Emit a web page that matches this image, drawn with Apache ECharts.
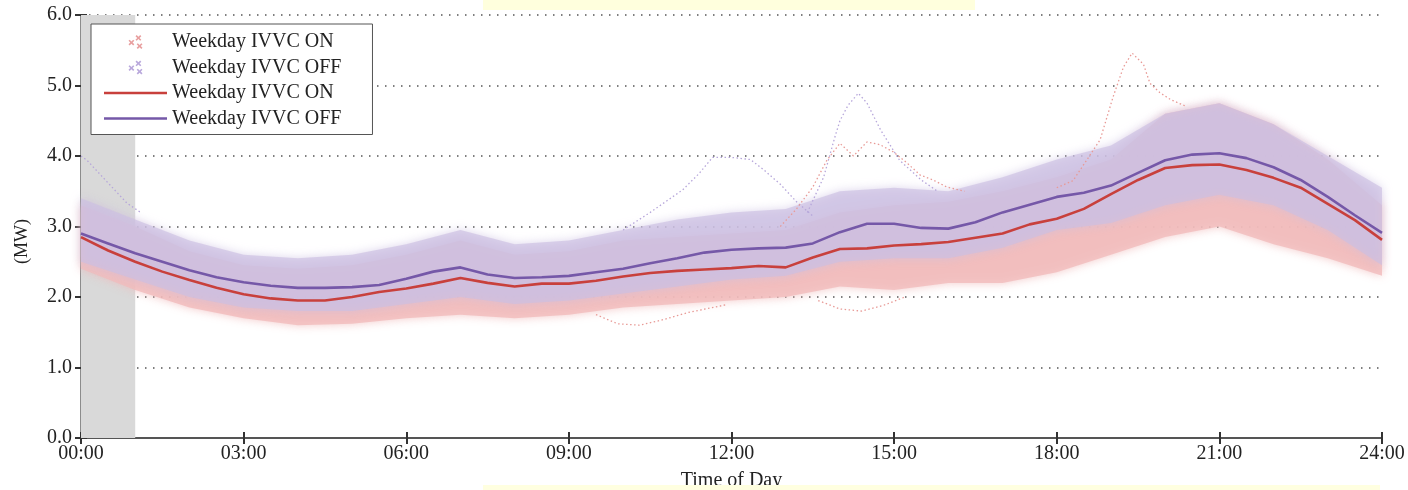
<!DOCTYPE html>
<html>
<head>
<meta charset="utf-8">
<script src="https://cdn.jsdelivr.net/npm/echarts@6/dist/echarts.min.js"></script>
<style>
  html, body { margin: 0; padding: 0; background: #fff; }
  #chart { width: 1408px; height: 490px; }
</style>
</head>
<body>
<div id="chart"></div>
<script>
// x positions (hours of the day)
const halfHours = [0, 0.5, 1, 1.5, 2, 2.5, 3, 3.5, 4, 4.5, 5, 5.5, 6, 6.5, 7, 7.5, 8, 8.5,
  9, 9.5, 10, 10.5, 11, 11.5, 12, 12.5, 13, 13.5, 14, 14.5, 15, 15.5, 16, 16.5,
  17, 17.5, 18, 18.5, 19, 19.5, 20, 20.5, 21, 21.5, 22, 22.5, 23, 23.5, 24];
const hours = [0, 1, 2, 3, 4, 5, 6, 7, 8, 9, 10, 11, 12, 13, 14, 15, 16, 17, 18, 19, 20, 21, 22, 23, 24];
const tickLabels = ['00:00', '03:00', '06:00', '09:00', '12:00', '15:00', '18:00', '21:00', '24:00'];

// average load curves (MW)
const onMean = [2.85, 2.66, 2.50, 2.36, 2.24, 2.13, 2.04, 1.98, 1.95, 1.95, 2.00, 2.07, 2.12, 2.19,
  2.27, 2.20, 2.15, 2.19, 2.19, 2.23, 2.29, 2.34, 2.37, 2.39, 2.41, 2.44, 2.42, 2.56, 2.68, 2.69,
  2.73, 2.75, 2.78, 2.84, 2.90, 3.03, 3.11, 3.25, 3.46, 3.66, 3.83, 3.87, 3.88, 3.80, 3.69, 3.55,
  3.32, 3.09, 2.81];
const offMean = [2.90, 2.76, 2.62, 2.50, 2.38, 2.28, 2.21, 2.16, 2.13, 2.13, 2.14, 2.17, 2.26, 2.36,
  2.42, 2.32, 2.27, 2.28, 2.30, 2.35, 2.40, 2.48, 2.55, 2.63, 2.67, 2.69, 2.70, 2.76, 2.92, 3.04,
  3.04, 2.98, 2.97, 3.06, 3.20, 3.31, 3.42, 3.48, 3.58, 3.76, 3.94, 4.02, 4.04, 3.97, 3.84, 3.66,
  3.42, 3.16, 2.91];

// spread of the individual days (hourly low / high of the scatter cloud)
const onLow = [2.40, 2.10, 1.85, 1.70, 1.60, 1.62, 1.70, 1.75, 1.70, 1.75, 1.85, 1.90, 1.95,
  2.00, 2.15, 2.10, 2.20, 2.20, 2.35, 2.60, 2.85, 3.00, 2.75, 2.55, 2.30];
const onHigh = [3.30, 3.00, 2.65, 2.45, 2.40, 2.45, 2.60, 2.80, 2.60, 2.65, 2.80, 2.85, 2.90,
  2.95, 3.20, 3.30, 3.35, 3.50, 3.70, 3.95, 4.60, 4.75, 4.45, 3.95, 3.30];
const offLow = [2.50, 2.25, 2.00, 1.85, 1.80, 1.80, 1.90, 2.00, 1.90, 1.95, 2.05, 2.15, 2.25,
  2.30, 2.50, 2.55, 2.55, 2.70, 2.95, 3.05, 3.30, 3.45, 3.30, 2.95, 2.45];
const offHigh = [3.40, 3.10, 2.80, 2.60, 2.55, 2.60, 2.75, 2.95, 2.75, 2.80, 2.95, 3.10, 3.20,
  3.25, 3.50, 3.55, 3.50, 3.70, 3.95, 4.15, 4.60, 4.75, 4.45, 4.00, 3.55];

// single days that stray from the cloud: [hour, MW]
const offNightDay = [[0, 4.0], [0.11, 3.94], [0.4, 3.7], [0.85, 3.33], [1.1, 3.2]];
const offNoonDay = [[10.0, 2.95], [10.5, 3.2], [11.1, 3.52], [11.4, 3.75], [11.65, 3.98], [12.0, 3.98],
  [12.35, 3.95], [12.6, 3.8], [12.9, 3.6], [13.2, 3.35], [13.5, 3.15]];
const offAfternoonDay = [[13.4, 3.2], [13.7, 3.7], [13.9, 4.25], [14.0, 4.5], [14.15, 4.72], [14.34, 4.89],
  [14.5, 4.75], [14.75, 4.37], [15.1, 3.94], [15.5, 3.66], [15.8, 3.5]];
const onAfternoonDay = [[12.9, 3.0], [13.2, 3.25], [13.5, 3.56], [13.76, 3.94], [14.0, 4.18], [14.25, 4.0],
  [14.5, 4.2], [14.74, 4.16], [14.98, 4.06], [15.24, 3.9], [15.48, 3.73], [15.72, 3.66], [15.97, 3.56], [16.3, 3.5]];
const onEveningDay = [[18.0, 3.55], [18.3, 3.65], [18.56, 3.95], [18.8, 4.23], [19.04, 4.84], [19.23, 5.26],
  [19.39, 5.46], [19.6, 5.3], [19.72, 5.03], [19.9, 4.9], [20.1, 4.8], [20.4, 4.7]];
const onMorningLowDay = [[9.5, 1.75], [9.9, 1.62], [10.3, 1.6], [10.7, 1.67], [11.2, 1.78], [11.9, 1.89]];
const onAfternoonLowDay = [[13.6, 1.95], [14.0, 1.83], [14.4, 1.8], [14.8, 1.88], [15.2, 2.0]];

const zip = (xs, ys) => xs.map((x, i) => [x, ys[i]]);

const serif = 'Liberation Serif';
const pinkCloud = '#f1bcbc';
const lilacCloud = '#cbbfe2';
const redLine = '#c8403c';
const purpleLine = '#7558a8';

const dotIcon = 'path://M0,5 L1,4 L2.5,5.5 L4,4 L5,5 L3.5,6.5 L5,8 L4,9 L2.5,7.5 L1,9 L0,8 L1.5,6.5 Z' +
  'M6,1 L7,0 L8.5,1.5 L10,0 L11,1 L9.5,2.5 L11,4 L10,5 L8.5,3.5 L7,5 L6,4 L7.5,2.5 Z' +
  'M7,8 L8,7 L9.5,8.5 L11,7 L12,8 L10.5,9.5 L12,11 L11,12 L9.5,10.5 L8,12 L7,11 L8.5,9.5 Z';
const lineIcon = 'path://M0,0 L63,0 L63,2.6 L0,2.6 Z';

// the scatter cloud of one case, drawn as the band between its hourly low and high
function cloud(name, lo, hi, color, opacity) {
  return {
    name: name, type: 'custom', silent: true, z: 3,
    data: hours.map((h, i) => [h, lo[i], hi[i]]),
    encode: { x: 0, y: [1, 2] },
    itemStyle: { color: color },
    renderItem: (params, api) => {
      if (params.dataIndex !== 0) return null;
      const top = hours.map((h, i) => api.coord([h, hi[i]]));
      const bottom = hours.map((h, i) => api.coord([h, lo[i]])).reverse();
      return {
        type: 'polygon',
        shape: { points: top.concat(bottom) },
        style: { fill: color, opacity: opacity, shadowBlur: 10, shadowColor: color }
      };
    }
  };
}

function straggler(data, color) {
  return {
    type: 'line', data: data, symbol: 'none', silent: true, z: 4,
    lineStyle: { color: color, width: 1.3, type: [1.5, 2.5] }
  };
}

const chart = echarts.init(document.getElementById('chart'), null, { renderer: 'canvas' });

const option = {
  animation: false,
  backgroundColor: '#fff',
  grid: { left: 81, right: 26, top: 15, bottom: 52, containLabel: false, outerBoundsMode: 'none' },
  legend: {
    left: 91, top: 24, orient: 'vertical',
    backgroundColor: '#fff', borderColor: '#555', borderWidth: 1,
    padding: [8, 26, 6, 13],
    itemWidth: 63, itemHeight: 14, itemGap: 5.5,
    textStyle: { fontFamily: serif, fontSize: 20, lineHeight: 20, color: '#222' },
    data: [
      { name: 'Weekday IVVC ON', icon: dotIcon, itemStyle: { color: '#e8a0a0' } },
      { name: 'Weekday IVVC OFF', icon: dotIcon, itemStyle: { color: '#b9a8dc' } },
      { name: 'Weekday IVVC ON ', icon: lineIcon, itemStyle: { color: redLine } },
      { name: 'Weekday IVVC OFF ', icon: lineIcon, itemStyle: { color: purpleLine } }
    ]
  },
  xAxis: [
    {
      type: 'value', min: 0, max: 24, interval: 3, position: 'bottom',
      name: 'Time of Day', nameLocation: 'middle', nameGap: 33,
      nameTextStyle: { fontFamily: serif, fontSize: 20, color: '#222' },
      axisLine: { lineStyle: { color: '#333', width: 2 } },
      axisTick: { inside: true, length: 6, lineStyle: { color: '#333', width: 2 } },
      axisLabel: {
        fontFamily: serif, fontSize: 20, color: '#222', margin: 6,
        formatter: v => tickLabels[Math.round(v / 3)]
      },
      splitLine: { show: false }
    },
    {
      type: 'value', min: 0, max: 24, interval: 3, position: 'top',
      axisLine: { lineStyle: { color: '#555', width: 2 } },
      axisTick: { inside: true, length: 6, lineStyle: { color: '#333', width: 2 } },
      axisLabel: { show: false },
      splitLine: { show: false }
    }
  ],
  yAxis: [
    {
      type: 'value', min: 0, max: 6, interval: 1, position: 'left',
      name: '(MW)', nameLocation: 'middle', nameGap: 50, nameRotate: 90,
      nameTextStyle: { fontFamily: serif, fontSize: 18, color: '#222', padding: [0, 30, 0, 0] },
      axisLine: { show: true, lineStyle: { color: '#333', width: 2 } },
      axisTick: { show: true, inside: true, length: 6, lineStyle: { color: '#333', width: 2 } },
      axisLabel: {
        fontFamily: serif, fontSize: 20, color: '#222', margin: 9,
        formatter: v => v.toFixed(1)
      },
      splitLine: { show: true, lineStyle: { color: '#555', width: 1.5, type: [1.5, 6.5] } }
    },
    {
      type: 'value', min: 0, max: 6, interval: 1, position: 'right',
      axisLine: { show: true, lineStyle: { color: '#8c8c8c', width: 2 } },
      axisTick: { show: true, inside: true, length: 6, lineStyle: { color: '#333', width: 2 } },
      axisLabel: { show: false },
      splitLine: { show: false }
    }
  ],
  series: [
    {
      type: 'line', data: [], silent: true, z: 2,
      markArea: {
        silent: true,
        itemStyle: { color: '#d9d9d9' },
        data: [[{ xAxis: 0 }, { xAxis: 1 }]]
      }
    },
    cloud('Weekday IVVC ON', onLow, onHigh, pinkCloud, 0.8),
    cloud('Weekday IVVC OFF', offLow, offHigh, lilacCloud, 0.66),
    straggler(offNightDay, '#b6a6da'),
    straggler(offNoonDay, '#b6a6da'),
    straggler(offAfternoonDay, '#b6a6da'),
    straggler(onAfternoonDay, '#e89a96'),
    straggler(onEveningDay, '#e89a96'),
    straggler(onMorningLowDay, '#e89a96'),
    straggler(onAfternoonLowDay, '#e89a96'),
    {
      name: 'Weekday IVVC ON ', type: 'line', data: zip(halfHours, onMean), symbol: 'none', z: 6,
      lineStyle: { color: redLine, width: 2.6 }, itemStyle: { color: redLine }
    },
    {
      name: 'Weekday IVVC OFF ', type: 'line', data: zip(halfHours, offMean), symbol: 'none', z: 6,
      lineStyle: { color: purpleLine, width: 2.6 }, itemStyle: { color: purpleLine }
    }
  ],
  graphic: [
    { type: 'rect', z: 100, shape: { x: 483, y: 0, width: 492, height: 10 }, style: { fill: '#ffffdd' } },
    { type: 'rect', z: 100, shape: { x: 483, y: 485, width: 897, height: 5 }, style: { fill: '#ffffe0' } }
  ]
};

chart.setOption(option);
</script>
</body>
</html>
